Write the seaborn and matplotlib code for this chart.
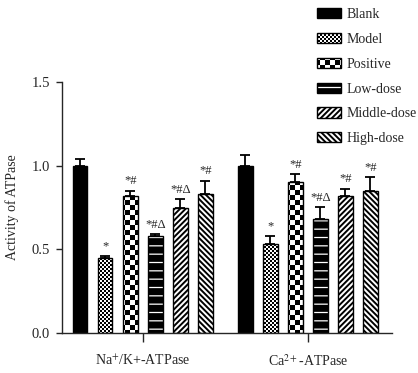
import warnings
import numpy as np
import pandas as pd
import matplotlib
matplotlib.use('Agg')
import matplotlib.pyplot as plt
import matplotlib.patches as mpatches
from matplotlib import hatch as mhatch
from matplotlib.path import Path
from matplotlib.colors import to_rgba
import seaborn as sns

warnings.filterwarnings('ignore')

groups = ['Na', 'Ca']
group_labels = [r'Na$^{+}$/K+-ATPase', r'Ca$^{2+}$-ATPase']
treatments = ['Blank', 'Model', 'Positive', 'Low-dose', 'Middle-dose', 'High-dose']

na_vals = [1.00, 0.45, 0.82, 0.58, 0.75, 0.83]
na_errs = [0.04, 0.012, 0.03, 0.012, 0.05, 0.08]
ca_vals = [1.00, 0.53, 0.90, 0.68, 0.82, 0.85]
ca_errs = [0.066, 0.05, 0.048, 0.072, 0.042, 0.08]
na_marks = ['', '*', '*#', '*#\u0394', '*#\u0394', '*#']
ca_marks = ['', '*', '*#', '*#\u0394', '*#', '*#']


# checkerboard hatch ('c' coarse, 'k' fine) - matplotlib has none built in
class Checker(mhatch.HatchPatternBase):
    def __init__(self, hatch, density):
        n = 20 * hatch.count('c') + 50 * hatch.count('k')
        self.n = n
        self.cells = [(i, j) for i in range(n) for j in range(n) if (i + j) % 2 == 0]
        self.num_vertices = 5 * len(self.cells)

    def set_vertices_and_codes(self, vertices, codes):
        s = 1.0 / self.n
        sq = np.array([[0, 0], [1, 0], [1, 1], [0, 1], [0, 0]], float) * s
        for k, (i, j) in enumerate(self.cells):
            vertices[5 * k:5 * k + 5] = sq + [i * s, j * s]
            codes[5 * k:5 * k + 5] = [Path.MOVETO, Path.LINETO, Path.LINETO,
                                      Path.LINETO, Path.CLOSEPOLY]


mhatch._hatch_types.append(Checker)

# style per treatment: facecolor, hatch, hatch colour, hatch linewidth
styles = {
    'Blank': ('black', None, 'black', 1.0),
    'Model': ('white', 'k', 'black', 0.01),
    'Positive': ('white', 'c', 'black', 0.01),
    'Low-dose': ('black', '--', 'white', 0.9),
    'Middle-dose': ('white', '//////', 'black', 1.4),
    'High-dose': ('white', '\\' * 6, 'black', 1.4),
}

df = pd.DataFrame({
    'group': np.repeat(groups, len(treatments)),
    'treatment': treatments * 2,
    'value': na_vals + ca_vals,
})
errs = {'Na': na_errs, 'Ca': ca_errs}
marks = {'Na': na_marks, 'Ca': ca_marks}

sns.set_style('ticks')
plt.rcParams['font.family'] = ['Liberation Serif', 'DejaVu Serif']
plt.rcParams['mathtext.fontset'] = 'stix'
plt.rcParams['font.size'] = 10
plt.rcParams['hatch.linewidth'] = 0.01


def style_patch(p, t):
    fc, h, hc, hlw = styles[t]
    p.set_facecolor(fc)
    p.set_edgecolor('black')
    p.set_linewidth(1.0)
    if h:
        p.set_hatch(h)
        if hasattr(p, 'set_hatchcolor'):
            p.set_hatchcolor(hc)
        else:
            p._hatch_color = to_rgba(hc)
        if hasattr(p, 'set_hatch_linewidth'):
            p.set_hatch_linewidth(hlw)
        else:
            p._hatch_linewidth = hlw


fig = plt.figure(figsize=(4.18, 3.73), dpi=100)
ax = fig.add_axes([0.148, 0.107, 0.790, 0.673])

sns.barplot(data=df, x='group', y='value', hue='treatment', order=groups,
            hue_order=treatments, palette=['white'] * 6, width=0.91, gap=0.42,
            errorbar=None, legend=False, ax=ax)

for t, cont in zip(treatments, ax.containers):
    ti = treatments.index(t)
    for g, bar in zip(groups, cont):
        style_patch(bar, t)
        x = bar.get_x() + bar.get_width() / 2
        h = bar.get_height()
        e = errs[g][ti]
        ax.errorbar(x, h, yerr=[[0], [e]], fmt='none', ecolor='black',
                    elinewidth=1.3, capsize=3.5, capthick=1.3, zorder=1)
        if marks[g][ti]:
            ax.annotate(marks[g][ti], (x, h + e), xytext=(0, 2.5),
                        textcoords='offset points', ha='center', va='bottom',
                        fontsize=9)

ax.set_ylim(0, 1.5)
ax.set_xlim(-0.49, 1.51)
ax.set_yticks([0, 0.5, 1.0, 1.5])
ax.set_yticklabels(['0.0', '0.5', '1.0', '1.5'])
ax.set_xticks([0, 1])
ax.set_xticklabels(group_labels)
ax.set_xlabel('')
ax.set_ylabel('Activity of ATPase', fontsize=10, labelpad=9)
sns.despine(ax=ax)
for s in ['left', 'bottom']:
    ax.spines[s].set_linewidth(1.0)
ax.tick_params(axis='x', length=6.5, width=1.0, pad=8, labelsize=10)
ax.tick_params(axis='y', length=4.5, width=1.0, pad=4, labelsize=10.5)

handles = []
for t in treatments:
    p = mpatches.Rectangle((0, 0), 1, 1)
    style_patch(p, t)
    handles.append(p)
leg = fig.legend(handles, treatments, loc='upper left', bbox_to_anchor=(0.745, 0.993),
                 frameon=False, fontsize=10, handlelength=1.75, handleheight=0.75,
                 labelspacing=0.85, handletextpad=0.4, borderaxespad=0)
for p, t in zip(leg.get_patches(), treatments):
    style_patch(p, t)

fig.savefig('out.png', dpi=100)
